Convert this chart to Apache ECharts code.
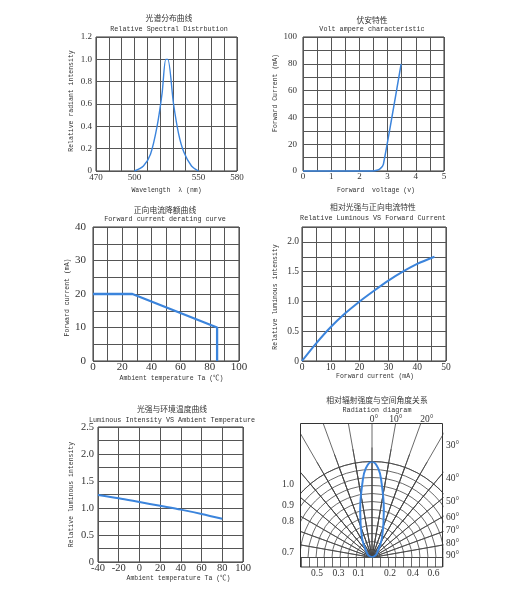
<!DOCTYPE html>
<html>
<head>
<meta charset="utf-8">
<script src="https://cdn.jsdelivr.net/npm/echarts@6/dist/echarts.min.js"></script>
<style>
html, body { margin: 0; padding: 0; background: #fff; }
#chart { width: 526px; height: 600px; }
</style>
</head>
<body>
<div id="chart"></div>
<script>
// 光谱分布曲线
const specWavelength = [500, 507, 512.5, 517.5, 521.5, 524.5, 526, 530.5, 534.5, 538.5, 544.5, 550]
const specIntensity = [0, 0.045, 0.15, 0.39, 0.69, 1.0, 1.0, 0.6, 0.33, 0.17, 0.045, 0]
const specTickLabels = [470, 500, 550, 580]

// 伏安特性
const vaVoltage = [0, 2.45, 2.62, 2.74, 2.85, 3.48]
const vaCurrent = [0, 0, 0.5, 1.8, 5, 80]

// 正向电流降额曲线
const derateTemp = [0, 27, 85, 85]
const derateCurrent = [20, 20, 10, 0]

// 相对光强与正向电流
const lumCurrent = [0, 5, 10, 15, 20, 25, 30, 35, 40, 46]
const lumIntensity = [0, 0.3, 0.57, 0.8, 1.0, 1.18, 1.35, 1.5, 1.63, 1.75]

// 光强与环境温度
const tempAmbient = [-40, -20, 0, 20, 40, 60, 80]
const tempIntensity = [1.24, 1.18, 1.11, 1.04, 0.97, 0.89, 0.8]

// 辐射图 (half lobe, mirrored)
const radAngle = [0, 4, 7, 14, 27, 40, 56, 90]
const radIntensity = [1.0, 0.93, 0.8, 0.51, 0.23, 0.1, 0.05, 0]
const radTopLabels = ['0°', '10°', '20°']
const radRightLabels = ['30°', '40°', '50°', '60°', '70°', '80°', '90°']
const radLeftLabels = ['1.0', '0.9', '0.8', '0.7']
const radBottomLabels = ['0.5', '0.3', '0.1', '0.2', '0.4', '0.6']

const titlesCn = ['光谱分布曲线', '伏安特性', '正向电流降额曲线', '相对光强与正向电流特性', '光强与环境温度曲线', '相对辐射强度与空间角度关系']
const titlesEn = ['Relative Spectral Distrbution', 'Volt ampere characteristic', 'Forward current derating curve',
  'Relative Luminous VS Forward Current', 'Luminous Intensity VS Ambient Temperature', 'Radiation diagram']

// layout
const titlePos = [[169, 18, 29], [372, 20, 29], [165, 210, 219.5], [373, 207.5, 218], [172, 409.5, 420], [377, 400.5, 410]]
const radCenter = [372, 557.5]
const radTopX = [374, 396, 427]
const radRightY = [445, 478, 501, 517, 530, 543, 555.5]
const radLeftY = [484.5, 505, 521, 552.5]
const radBottomX = [317, 338.5, 358.5, 390, 413, 433.5]

const BLUE = '#3b84dc'
const TXT = '#333'
const MONO = "'Liberation Mono', 'Noto Sans CJK SC', monospace"
const SERIF = "'Liberation Serif', serif"
const CJK = "'Noto Sans CJK SC', sans-serif"
const gridLine = { show: true, lineStyle: { color: '#555', width: 1 } }

const oneDec = v => (v === 0 ? '0' : v.toFixed(1))
const halfSteps = v => (Math.abs(v * 2 - Math.round(v * 2)) < 1e-6 ? oneDec(v) : '')

function axis(gridIndex, min, max, interval, fmt, opts) {
  return Object.assign({
    gridIndex: gridIndex,
    type: 'value',
    min: min,
    max: max,
    interval: interval,
    axisLine: { show: false },
    axisTick: { show: false },
    splitLine: gridLine,
    nameLocation: 'middle',
    nameTextStyle: { fontFamily: MONO, fontSize: 6.5, color: TXT },
    axisLabel: { formatter: fmt, fontFamily: SERIF, fontSize: opts.fontSize, color: TXT, margin: opts.margin }
  }, opts.extra || {})
}

function nameStyle(padding) {
  return { fontFamily: MONO, fontSize: 6.5, color: TXT, padding: padding || 0 }
}

function zip(a, b) {
  return a.map((v, i) => [v, b[i]])
}

function grid(left, top, width, height) {
  return { left: left, top: top, width: width, height: height, show: true, borderColor: '#333', borderWidth: 1, containLabel: false }
}

function txt(x, y, text, font, size, align) {
  return {
    type: 'text', x: x, y: y, z: 110,
    style: { text: text, fontFamily: font, fontSize: size, fill: TXT, align: align || 'center', verticalAlign: 'middle' }
  }
}

const lobe = []
for (let i = radAngle.length - 1; i > 0; i--) lobe.push([radIntensity[i], -radAngle[i]])
for (let i = 0; i < radAngle.length; i++) lobe.push([radIntensity[i], radAngle[i]])

const graphics = []
titlePos.forEach((p, i) => {
  graphics.push(txt(p[0], p[1], titlesCn[i], CJK, 7.8))
  graphics.push(txt(p[0], p[2], titlesEn[i], MONO, 6.75))
})
// masks around radiation box
const mask = (x, y, w, h) => ({ type: 'rect', z: 100, shape: { x: x, y: y, width: w, height: h }, style: { fill: '#fff' } })
graphics.push(mask(254, 393, 46.5, 180))
graphics.push(mask(443.5, 393, 83, 180))
graphics.push(mask(254, 393, 272, 30.5))
graphics.push(mask(254, 567.5, 272, 33))
graphics.push({ type: 'rect', z: 105, shape: { x: 300.5, y: 423.5, width: 142, height: 143.5 },
  style: { fill: 'none', stroke: '#333', lineWidth: 1 } })
radTopLabels.forEach((t, i) => graphics.push(txt(radTopX[i], 419, t, SERIF, 9.5)))
radRightLabels.forEach((t, i) => graphics.push(txt(446, radRightY[i], t, SERIF, 9.5, 'left')))
radLeftLabels.forEach((t, i) => graphics.push(txt(288, radLeftY[i], t, SERIF, 9.5)))
radBottomLabels.forEach((t, i) => graphics.push(txt(radBottomX[i], 573.5, t, SERIF, 9.5)))

const hidden = { show: false }
const polarLine = { show: true, lineStyle: { color: '#444', width: 0.8 } }
function angleAxis(polarIndex, min, max, start, end, showLine) {
  return {
    polarIndex: polarIndex, type: 'value', min: min, max: max, interval: 10,
    startAngle: start, endAngle: end, clockwise: true, z: 1,
    axisLine: showLine ? polarLine : hidden, axisTick: hidden, axisLabel: hidden, splitLine: polarLine
  }
}
function radiusAxis(polarIndex, circles) {
  return {
    polarIndex: polarIndex, type: 'value', min: 0, max: 1, interval: 1 / 12, z: 1,
    axisLine: hidden, axisTick: hidden, axisLabel: hidden, splitLine: circles ? polarLine : hidden
  }
}

const option = {
  animation: false,
  backgroundColor: '#fff',
  grid: [
    grid(96, 37, 141, 134),
    grid(303, 37, 141, 134),
    grid(93, 227, 146, 134),
    grid(302, 227, 144, 134),
    grid(98, 427, 145, 135),
    { left: 301, top: 558, width: 142, height: 9, show: false }
  ],
  xAxis: [
    axis(0, 470, 580, 10, v => (specTickLabels.includes(v) ? String(v) : ''), { fontSize: 9, margin: 2,
      extra: { name: 'Wavelength  λ (nm)', nameGap: 16, nameTextStyle: nameStyle() } }),
    axis(1, 0, 5, 0.5, v => (Number.isInteger(v) ? String(v) : ''), { fontSize: 9, margin: 1,
      extra: { name: 'Forward  voltage (v)', nameGap: 16, nameTextStyle: nameStyle([0, 0, 0, 5]) } }),
    axis(2, 0, 100, 10, v => (v % 20 === 0 ? String(v) : ''), { fontSize: 11, margin: 1,
      extra: { name: 'Ambient temperature Ta (℃)', nameGap: 14.5, nameTextStyle: nameStyle([0, 0, 0, 11]) } }),
    axis(3, 0, 50, 5, v => (v % 10 === 0 ? String(v) : ''), { fontSize: 9.5, margin: 1,
      extra: { name: 'Forward current (mA)', nameGap: 11, nameTextStyle: nameStyle([0, 0, 0, 2]) } }),
    axis(4, -40, 100, 20, v => String(v), { fontSize: 10.5, margin: 0.5,
      extra: { name: 'Ambient temperature Ta (℃)', nameGap: 13.5, nameTextStyle: nameStyle([0, 0, 0, 16]) } }),
    { gridIndex: 5, type: 'value', min: -9, max: 9, interval: 1, axisLine: hidden, axisTick: hidden,
      axisLabel: hidden, splitLine: polarLine }
  ],
  yAxis: [
    axis(0, 0, 1.2, 0.2, oneDec, { fontSize: 9, margin: 4,
      extra: { name: 'Relative radiant intensity', nameGap: 21, nameTextStyle: nameStyle([0, 0, 0, 6]) } }),
    axis(1, 0, 100, 10, v => (v % 20 === 0 ? String(v) : ''), { fontSize: 9, margin: 6,
      extra: { name: 'Forward Current (mA)', nameGap: 24, nameTextStyle: nameStyle([0, 0, 0, 22]) } }),
    axis(2, 0, 40, 5, v => (v % 10 === 0 ? String(v) : ''), { fontSize: 11, margin: 7,
      extra: { name: 'Forward current (mA)', nameGap: 22, nameTextStyle: nameStyle([0, 7, 0, 0]) } }),
    axis(3, 0, 2.25, 0.25, v => (v <= 2 ? halfSteps(v) : ''), { fontSize: 9.5, margin: 3,
      extra: { name: 'Relative luminous intensity', nameGap: 23, nameTextStyle: nameStyle([0, 6, 0, 0]) } }),
    axis(4, 0, 2.5, 0.25, halfSteps, { fontSize: 10.5, margin: 4,
      extra: { name: 'Relative luminous intensity', nameGap: 23.5, nameTextStyle: nameStyle() } }),
    { gridIndex: 5, type: 'value', show: false }
  ],
  polar: [
    { center: radCenter, radius: 96 },
    { center: radCenter, radius: 110 },
    { center: radCenter, radius: 152 }
  ],
  angleAxis: [
    angleAxis(0, -90, 90, 180, 0, true),
    angleAxis(1, -90, 90, 180, 0, false),
    angleAxis(2, -40, 40, 130, 50, false)
  ],
  radiusAxis: [radiusAxis(0, true), radiusAxis(1, false), radiusAxis(2, false)],
  series: [
    { type: 'line', xAxisIndex: 0, yAxisIndex: 0, data: zip(specWavelength, specIntensity), smooth: 0.3,
      showSymbol: false, clip: false, lineStyle: { color: BLUE, width: 1.4 } },
    { type: 'line', xAxisIndex: 1, yAxisIndex: 1, data: zip(vaVoltage, vaCurrent), smooth: 0.2,
      showSymbol: false, clip: false, lineStyle: { color: BLUE, width: 1.5 } },
    { type: 'line', xAxisIndex: 2, yAxisIndex: 2, data: zip(derateTemp, derateCurrent),
      showSymbol: false, clip: false, lineStyle: { color: BLUE, width: 2.3 } },
    { type: 'line', xAxisIndex: 3, yAxisIndex: 3, data: zip(lumCurrent, lumIntensity), smooth: 0.3,
      showSymbol: false, clip: false, lineStyle: { color: BLUE, width: 2 } },
    { type: 'line', xAxisIndex: 4, yAxisIndex: 4, data: zip(tempAmbient, tempIntensity), smooth: 0.3,
      showSymbol: false, clip: false, lineStyle: { color: BLUE, width: 2 } },
    { type: 'line', coordinateSystem: 'polar', polarIndex: 0, data: lobe, smooth: 0.4, z: 3,
      showSymbol: false, clip: false, lineStyle: { color: BLUE, width: 2 } }
  ],
  graphic: graphics
}

const chart = echarts.init(document.getElementById('chart'))
chart.setOption(option)
</script>
</body>
</html>
